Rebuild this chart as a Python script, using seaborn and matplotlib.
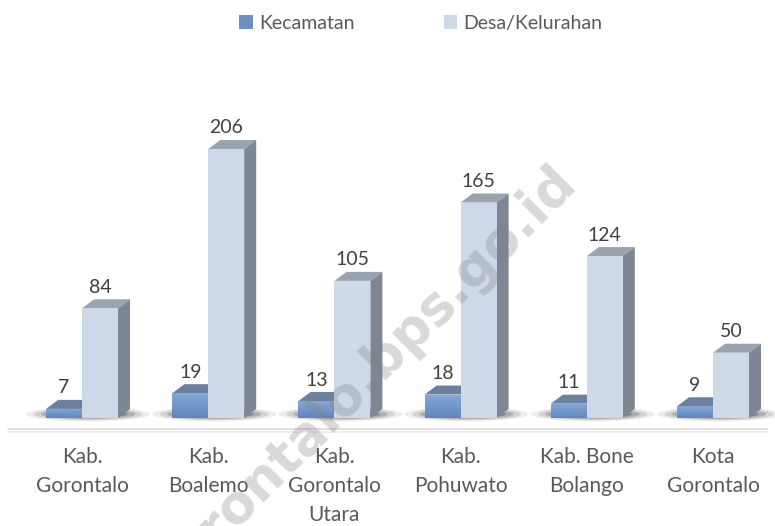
import numpy as np
import pandas as pd
import matplotlib
matplotlib.use("Agg")
import matplotlib.pyplot as plt
import seaborn as sns
from matplotlib.patches import Polygon, Patch, Ellipse
from matplotlib.colors import LinearSegmentedColormap

# data
wilayah = ["Kab.\nGorontalo", "Kab.\nBoalemo", "Kab.\nGorontalo\nUtara",
           "Kab.\nPohuwato", "Kab. Bone\nBolango", "Kota\nGorontalo"]
kecamatan = [7, 19, 13, 18, 11, 9]
desa = [84, 206, 105, 165, 124, 50]
series = ["Kecamatan", "Desa/Kelurahan"]

df = pd.DataFrame({
    "wilayah": wilayah * 2,
    "jumlah": kecamatan + desa,
    "jenis": [series[0]] * len(wilayah) + [series[1]] * len(wilayah),
})

front = {"Kecamatan": "#7097CA", "Desa/Kelurahan": "#CDD9E8"}
top_c = {"Kecamatan": "#6B809E", "Desa/Kelurahan": "#9AA4B0"}
side_c = {"Kecamatan": "#56698A", "Desa/Kelurahan": "#7D8793"}
text_c = "#595959"

sns.set_theme(style="white")
plt.rcParams["font.family"] = ["Lato", "DejaVu Sans"]

W, H = 7.75, 5.26
fig = plt.figure(figsize=(W, H), dpi=100)
ax = fig.add_axes([0.0, 0.1705, 1.0, 0.6059])

sns.barplot(data=df, x="wilayah", y="jumlah", hue="jenis", palette=front,
            width=0.57, saturation=1, legend=False, ax=ax, errorbar=None,
            linewidth=0)

xlim = (-0.650, 5.491)
ylim = (-14, 230)
ax.set_xlim(*xlim)
ax.set_ylim(*ylim)

# depth of the fake 3d faces, in pixels -> data units
px_x = W * 100 / (xlim[1] - xlim[0])
px_y = H * 100 * 0.6059 / (ylim[1] - ylim[0])
dx = 12 / px_x
dy = 9 / px_y

grad = LinearSegmentedColormap.from_list("kec", ["#5F86BD", "#86A8D6"])

for k, (cont, name) in enumerate(zip(ax.containers, series)):
    z = 3 + 3 * k
    for bar in cont:
        x0 = bar.get_x()
        w = bar.get_width()
        h = bar.get_height()
        bar.set_zorder(z + 1)
        if name == "Kecamatan":
            img = ax.imshow(np.linspace(0, 1, 50).reshape(-1, 1), cmap=grad,
                            extent=[x0, x0 + w, 0, h], aspect="auto",
                            origin="lower", zorder=z + 1.5)
            img.set_clip_path(bar)
        ax.add_patch(Polygon([(x0, h), (x0 + dx, h + dy), (x0 + w + dx, h + dy), (x0 + w, h)],
                             closed=True, facecolor=top_c[name], lw=0, zorder=z))
        ax.add_patch(Polygon([(x0 + w, 0), (x0 + w + dx, dy), (x0 + w + dx, h + dy), (x0 + w, h)],
                             closed=True, facecolor=side_c[name], lw=0, zorder=z))
    ax.bar_label(cont, labels=[str(int(b.get_height())) for b in cont],
                 padding=9, fontsize=14, color="#404040", zorder=10)

# dark floor shadow behind each pair of bars
for i in range(len(wilayah)):
    for s, a in [(1.0, 0.08), (0.85, 0.12), (0.7, 0.18), (0.55, 0.25)]:
        ax.add_patch(Ellipse((i + dx / 2, 3), width=0.78 * s + 0.2, height=11 * s,
                             facecolor="#111111", alpha=a, lw=0, zorder=1))

# floor line
ax.axhline(-8.5, color="#D9D9D9", lw=1.2, xmin=0.01, xmax=0.99, zorder=0)
ax.axhline(-10.5, color="#EBEBEB", lw=1.2, xmin=0.01, xmax=0.99, zorder=0)

sns.despine(ax=ax, left=True, bottom=True)
ax.set_yticks([])
ax.set_xlabel("")
ax.set_ylabel("")
ax.tick_params(axis="x", length=0, pad=8)
ax.set_xticks(range(len(wilayah)))
ax.set_xticklabels(wilayah, fontsize=15, color=text_c, linespacing=1.55)
ax.grid(False)

handles = [Patch(facecolor="#6D90C2", lw=0), Patch(facecolor="#CDD9E8", lw=0)]
fig.legend(handles, series, loc="upper center", bbox_to_anchor=(0.543, 1.005),
           ncol=2, frameon=False, fontsize=14, handlelength=0.7,
           handleheight=0.7, handletextpad=0.3, columnspacing=4.6,
           labelcolor=text_c)

# watermark (cut at the bottom edge, as in the source)
fig.text(0.466, 0.274, "gorontalo.bps.go.id", rotation=45, fontsize=38,
         fontweight="bold", color="#808080", alpha=0.3, ha="center",
         va="center", family="DejaVu Sans", zorder=20,
         rotation_mode="anchor")

fig.savefig("out.png", dpi=100)
